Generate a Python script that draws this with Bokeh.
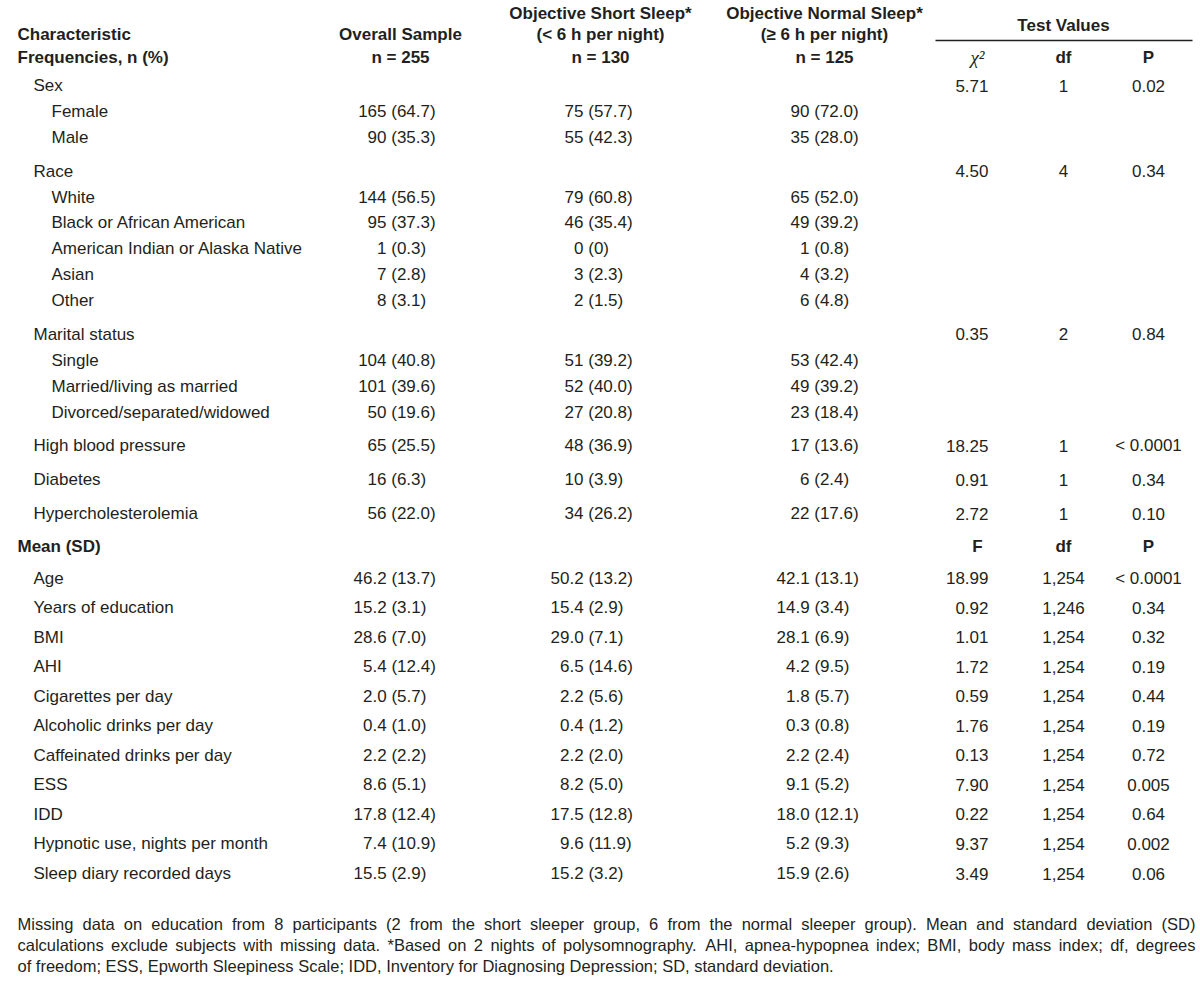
from bokeh.plotting import figure
from bokeh.models import Range1d, ColumnDataSource
from bokeh.core.properties import value
from bokeh.embed import file_html
from bokeh.resources import INLINE

# ---------------- data ----------------
col_headers = ["Overall Sample", "Objective Short Sleep*", "Objective Normal Sleep*"]
col_sub1 = ["", "(< 6 h per night)", "(\u2265 6 h per night)"]
col_n = ["n = 255", "n = 130", "n = 125"]

freq_labels = ["Sex", "Female", "Male", "Race", "White", "Black or African American",
               "American Indian or Alaska Native", "Asian", "Other", "Marital status",
               "Single", "Married/living as married", "Divorced/separated/widowed",
               "High blood pressure", "Diabetes", "Hypercholesterolemia"]
freq_is_sub = [False, True, True, False, True, True, True, True, True, False,
               True, True, True, False, False, False]
freq_overall = ["", "165 (64.7)", "90 (35.3)", "", "144 (56.5)", "95 (37.3)", "1 (0.3)",
                "7 (2.8)", "8 (3.1)", "", "104 (40.8)", "101 (39.6)", "50 (19.6)",
                "65 (25.5)", "16 (6.3)", "56 (22.0)"]
freq_short = ["", "75 (57.7)", "55 (42.3)", "", "79 (60.8)", "46 (35.4)", "0 (0)",
              "3 (2.3)", "2 (1.5)", "", "51 (39.2)", "52 (40.0)", "27 (20.8)",
              "48 (36.9)", "10 (3.9)", "34 (26.2)"]
freq_normal = ["", "90 (72.0)", "35 (28.0)", "", "65 (52.0)", "49 (39.2)", "1 (0.8)",
               "4 (3.2)", "6 (4.8)", "", "53 (42.4)", "49 (39.2)", "23 (18.4)",
               "17 (13.6)", "6 (2.4)", "22 (17.6)"]
chi2_vals = ["5.71", "", "", "4.50", "", "", "", "", "", "0.35", "", "", "",
             "18.25", "0.91", "2.72"]
chi2_df = ["1", "", "", "4", "", "", "", "", "", "2", "", "", "", "1", "1", "1"]
chi2_p = ["0.02", "", "", "0.34", "", "", "", "", "", "0.84", "", "", "",
          "< 0.0001", "0.34", "0.10"]

mean_labels = ["Age", "Years of education", "BMI", "AHI", "Cigarettes per day",
               "Alcoholic drinks per day", "Caffeinated drinks per day", "ESS", "IDD",
               "Hypnotic use, nights per month", "Sleep diary recorded days"]
mean_overall = ["46.2 (13.7)", "15.2 (3.1)", "28.6 (7.0)", "5.4 (12.4)", "2.0 (5.7)",
                "0.4 (1.0)", "2.2 (2.2)", "8.6 (5.1)", "17.8 (12.4)", "7.4 (10.9)",
                "15.5 (2.9)"]
mean_short = ["50.2 (13.2)", "15.4 (2.9)", "29.0 (7.1)", "6.5 (14.6)", "2.2 (5.6)",
              "0.4 (1.2)", "2.2 (2.0)", "8.2 (5.0)", "17.5 (12.8)", "9.6 (11.9)",
              "15.2 (3.2)"]
mean_normal = ["42.1 (13.1)", "14.9 (3.4)", "28.1 (6.9)", "4.2 (9.5)", "1.8 (5.7)",
               "0.3 (0.8)", "2.2 (2.4)", "9.1 (5.2)", "18.0 (12.1)", "5.2 (9.3)",
               "15.9 (2.6)"]
f_vals = ["18.99", "0.92", "1.01", "1.72", "0.59", "1.76", "0.13", "7.90", "0.22",
          "9.37", "3.49"]
f_df = ["1,254", "1,246", "1,254", "1,254", "1,254", "1,254", "1,254", "1,254",
        "1,254", "1,254", "1,254"]
f_p = ["< 0.0001", "0.34", "0.32", "0.19", "0.44", "0.19", "0.72", "0.005", "0.64",
       "0.002", "0.06"]

footnote = [
    "Missing data on education from 8 participants (2 from the short sleeper group, 6 from the normal sleeper group). Mean and standard deviation (SD)",
    "calculations exclude subjects with missing data. *Based on 2 nights of polysomnography. AHI, apnea-hypopnea index; BMI, body mass index; df, degrees",
    "of freedom; ESS, Epworth Sleepiness Scale; IDD, Inventory for Diagnosing Depression; SD, standard deviation.",
]

# ---------------- layout ----------------
FONT = "Liberation Sans"
SIZE = 17
FN_SIZE = 16.5
INK = "#231f20"
W, H = 1200, 986

# Arial / Liberation Sans advance widths (per 1000 em)
AW = {' ': 278, '(': 333, ')': 333, '*': 389, ',': 278, '-': 333, '.': 278, '/': 278,
      ':': 278, ';': 278, '%': 889, '<': 584, '=': 584, '>': 584}
for ch in "0123456789":
    AW[ch] = 556
AW.update(dict(zip("ABCDEFGHIJKLMNOPQRSTUVWXYZ",
                   [667, 667, 722, 722, 667, 611, 778, 722, 278, 500, 667, 556, 833,
                    722, 778, 667, 778, 722, 667, 611, 722, 667, 944, 667, 667, 611])))
AW.update(dict(zip("abcdefghijklmnopqrstuvwxyz",
                   [556, 556, 500, 556, 556, 278, 556, 556, 222, 222, 500, 222, 833,
                    556, 556, 556, 556, 333, 500, 278, 556, 500, 722, 500, 500, 500])))


def tw(s, size):
    return sum(AW.get(c, 556) for c in s) / 1000.0 * size


def lead(s):
    cut = [i for i in (s.find('.'), s.find(' ')) if i >= 0]
    return s[:min(cut)] if cut else s


X_HEAD, X_GROUP, X_SUB = 17, 33, 51
COL_CENTER = [400, 600, 824]
COUNT_ANCHOR = [386, 583, 809]
MEAN_ANCHOR = [372, 569, 795]
X_STAT_R, X_DF, X_P = 988, 1063, 1148
X_STAT_C = 977

p = figure(width=W, height=H, x_range=Range1d(0, W), y_range=Range1d(H, 0),
           output_backend="svg", toolbar_location=None, min_border=0)
p.axis.visible = False
p.grid.visible = False
p.outline_line_color = None
p.background_fill_color = "white"
p.border_fill_color = "white"


def add_text(xs, ys, texts, align="left", bold=False, size=SIZE, font=FONT, italic=False):
    if not texts:
        return
    src = ColumnDataSource(dict(x=xs, y=ys, t=texts))
    style = "bold" if bold else ("italic" if italic else "normal")
    p.text(x="x", y="y", text="t", source=src, text_align=align, text_baseline="middle",
           text_font=value(font), text_font_size=f"{size}px", text_font_style=style,
           text_color=INK)


# header
H1, H2, H3 = 13, 34, 57
add_text([X_HEAD, X_HEAD], [H2, H3], ["Characteristic", "Frequencies, n (%)"], bold=True)
hx, hy, ht = [], [], []
for i in range(3):
    lines = [col_headers[i], col_sub1[i], col_n[i]] if col_sub1[i] else [col_headers[i], col_n[i]]
    ys = [H1, H2, H3] if col_sub1[i] else [H2, H3]
    for t, yy in zip(lines, ys):
        hx.append(COL_CENTER[i]); hy.append(yy); ht.append(t)
add_text(hx, hy, ht, align="center", bold=True)
add_text([X_DF], [25], ["Test Values"], align="center", bold=True)
p.segment(x0=[935], y0=[40], x1=[1192], y1=[40], line_color=INK, line_width=1.5)
add_text([X_DF, X_P], [H3, H3], ["df", "P"], align="center", bold=True)
add_text([X_STAT_C], [H3], ["\u03c7\u00b2"], align="center", font="Liberation Serif",
         size=19, italic=True)

# frequency rows
fy = []
y = 85.0
for i, sub in enumerate(freq_is_sub):
    if i > 0:
        y += 25.9 if sub else 33.8
    fy.append(y)

add_text([X_SUB if s else X_GROUP for s in freq_is_sub], fy, freq_labels)
vx, vy, vt = [], [], []
for c, col in enumerate([freq_overall, freq_short, freq_normal]):
    for s, yy in zip(col, fy):
        if s:
            vx.append(COUNT_ANCHOR[c] - tw(lead(s), SIZE)); vy.append(yy); vt.append(s)
add_text(vx, vy, vt)
sx, sy, st = [], [], []
dx, dy, dt = [], [], []
for a, b, c_, yy in zip(chi2_vals, chi2_df, chi2_p, fy):
    if a:
        sx.append(X_STAT_R); sy.append(yy); st.append(a)
        dx += [X_DF, X_P]; dy += [yy, yy]; dt += [b, c_]
add_text(sx, sy, st, align="right")
add_text(dx, dy, dt, align="center")

# mean rows
y_mean = fy[-1] + 33.0
add_text([X_HEAD], [y_mean], ["Mean (SD)"], bold=True)
add_text([X_STAT_C, X_DF, X_P], [y_mean] * 3, ["F", "df", "P"], align="center", bold=True)
my = [y_mean + 31.5 + 29.55 * k for k in range(len(mean_labels))]
add_text([X_GROUP] * len(mean_labels), my, mean_labels)
vx, vy, vt = [], [], []
for c, col in enumerate([mean_overall, mean_short, mean_normal]):
    for s, yy in zip(col, my):
        vx.append(MEAN_ANCHOR[c] - tw(lead(s), SIZE)); vy.append(yy); vt.append(s)
add_text(vx, vy, vt)
add_text([X_STAT_R] * len(f_vals), my, f_vals, align="right")
add_text([X_DF] * len(f_df) + [X_P] * len(f_p), my + my, f_df + f_p, align="center")

# footnote (justified)
FN_L, FN_R = 17, 1195
fx, fyy, ft = [], [], []
y0 = my[-1] + 50
for li, line in enumerate(footnote):
    yy = y0 + 21 * li
    words = line.split(" ")
    widths = [tw(w, FN_SIZE) for w in words]
    if li < len(footnote) - 1:
        gap = (FN_R - FN_L - sum(widths)) / (len(words) - 1)
    else:
        gap = tw(" ", FN_SIZE)
    x = FN_L
    for w, wd in zip(words, widths):
        fx.append(x); fyy.append(yy); ft.append(w)
        x += wd + gap
add_text(fx, fyy, ft, size=FN_SIZE)

open("out.html", "w").write(file_html(p, INLINE))
